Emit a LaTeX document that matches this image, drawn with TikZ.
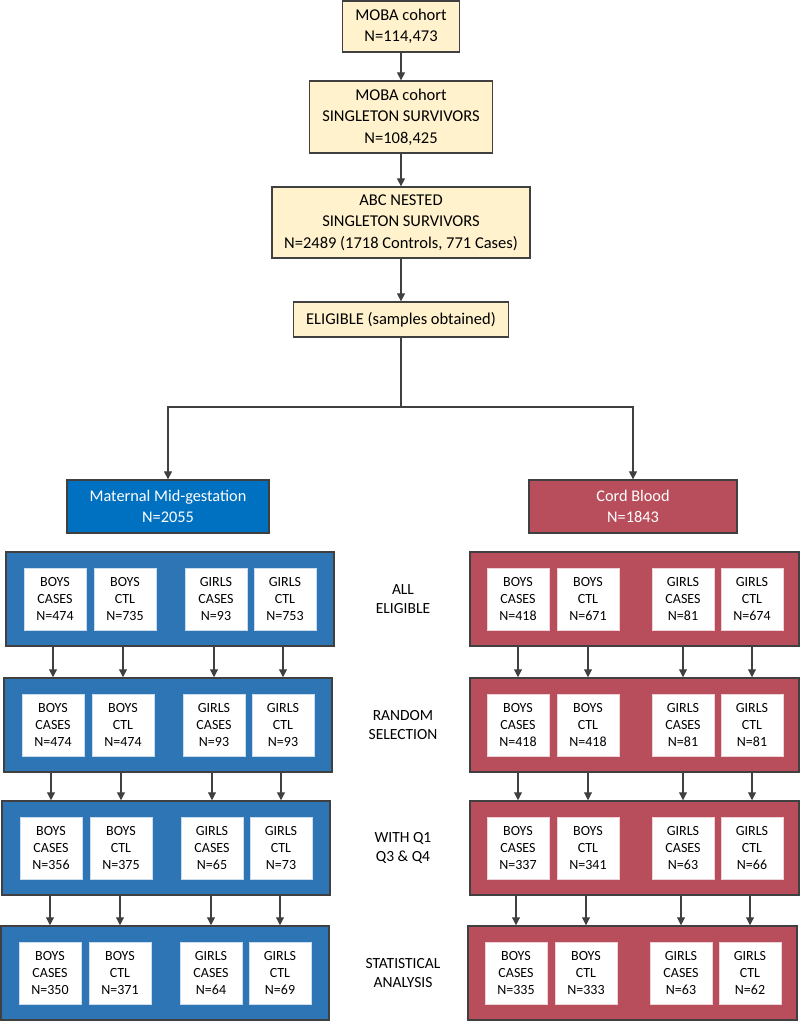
\documentclass[tikz,border=0pt]{standalone}
\usepackage{fontspec}
\setmainfont{Carlito}
\usetikzlibrary{arrows.meta}
\definecolor{cream}{HTML}{FFF2CC}
\definecolor{matblue}{HTML}{0070C0}
\definecolor{panblue}{HTML}{2E75B6}
\definecolor{cordred}{RGB}{184,78,91}
\definecolor{edge}{HTML}{404040}
\begin{document}
\begin{tikzpicture}[x=1pt,y=-1pt,
 topbox/.style={draw=edge, line width=1.3pt, fill=cream, align=center, inner sep=0pt, font=\fontsize{16.5}{21.5}\selectfont},
 head/.style={draw=edge, line width=1.3pt, text=white, align=center, inner sep=0pt, minimum height=53pt, font=\fontsize{16.3}{21}\selectfont},
 panel/.style={draw=edge, line width=1.5pt, minimum height=94pt, inner sep=0pt},
 wbox/.style={fill=white, draw=#1, line width=0.8pt, minimum width=62pt, minimum height=62pt, inner sep=0pt, align=center, font=\fontsize{14}{17}\selectfont},
 stage/.style={align=center, font=\fontsize{15.5}{19}\selectfont},
 conn/.style={draw=edge, line width=1.1pt},
 arr/.style={conn, -{Triangle[length=8pt,width=8pt]}},
]
\useasboundingbox (0,0) rectangle (800,1021);

% top chain
\node[topbox, minimum width=117pt, minimum height=51pt] (b1) at (401,26.5) {MOBA cohort\\N=114,473};
\node[topbox, minimum width=183pt, minimum height=72pt] (b2) at (401,117) {MOBA cohort\\SINGLETON SURVIVORS\\N=108,425};
\node[topbox, minimum width=258pt, minimum height=71pt] (b3) at (401,222.5) {ABC NESTED\\SINGLETON SURVIVORS\\N=2489 (1718 Controls, 771 Cases)};
\node[topbox, minimum width=215pt, minimum height=35pt] (b4) at (401,319.5) {ELIGIBLE (samples obtained)};
\draw[arr] (b1) -- (b2);
\draw[arr] (b2) -- (b3);
\draw[arr] (b3) -- (b4);

% headers
\node[head, fill=matblue, minimum width=202pt] (mat) at (168,506.5) {Maternal Mid-gestation\\N=2055};
\node[head, fill=cordred, minimum width=208pt] (cord) at (633,506.5) {Cord Blood\\N=1843};
\coordinate (j) at (401,407);
\draw[conn] (b4.south) -- (j);
\draw[arr] (j) -| (mat.north);
\draw[arr] (j) -| (cord.north);

% panels
\foreach \p/\ty/\lx/\rx/\stg/\la/\lb/\lc/\ld/\ra/\rb/\rc/\rd in {
 1/599/6/470/{ALL\\ELIGIBLE}/474/735/93/753/418/671/81/674,
 2/725/4/470/{RANDOM\\SELECTION}/474/474/93/93/418/418/81/81,
 3/848/2/470/{WITH Q1\\Q3 \& Q4}/356/375/65/73/337/341/63/66,
 4/973/1/468/{STATISTICAL\\ANALYSIS}/350/371/64/69/335/333/63/62}{
  \node[panel, fill=panblue, minimum width=328pt] (LP\p) at (\lx+164,\ty) {};
  \node[wbox=panblue!25] (L\p a) at (\lx+49,\ty) {BOYS\\CASES\\N=\la};
  \node[wbox=panblue!25] (L\p b) at (\lx+119,\ty) {BOYS\\CTL\\N=\lb};
  \node[wbox=panblue!25] (L\p c) at (\lx+210,\ty) {GIRLS\\CASES\\N=\lc};
  \node[wbox=panblue!25] (L\p d) at (\lx+279,\ty) {GIRLS\\CTL\\N=\ld};
  \node[panel, fill=cordred, minimum width=329pt] (RP\p) at (\rx+164.5,\ty) {};
  \node[wbox=cordred!25] (R\p a) at (\rx+48,\ty) {BOYS\\CASES\\N=\ra};
  \node[wbox=cordred!25] (R\p b) at (\rx+118,\ty) {BOYS\\CTL\\N=\rb};
  \node[wbox=cordred!25] (R\p c) at (\rx+213,\ty) {GIRLS\\CASES\\N=\rc};
  \node[wbox=cordred!25] (R\p d) at (\rx+282,\ty) {GIRLS\\CTL\\N=\rd};
  \node[stage] (S\p) at (403,\ty) {\stg};
}

\foreach \p/\q in {1/2,2/3,3/4}{
  \foreach \s in {a,b,c,d}{
    \draw[arr] (L\q\s |- LP\p.south) -- (L\q\s |- LP\q.north);
    \draw[arr] (R\q\s |- RP\p.south) -- (R\q\s |- RP\q.north);
  }
}
\end{tikzpicture}
\end{document}
